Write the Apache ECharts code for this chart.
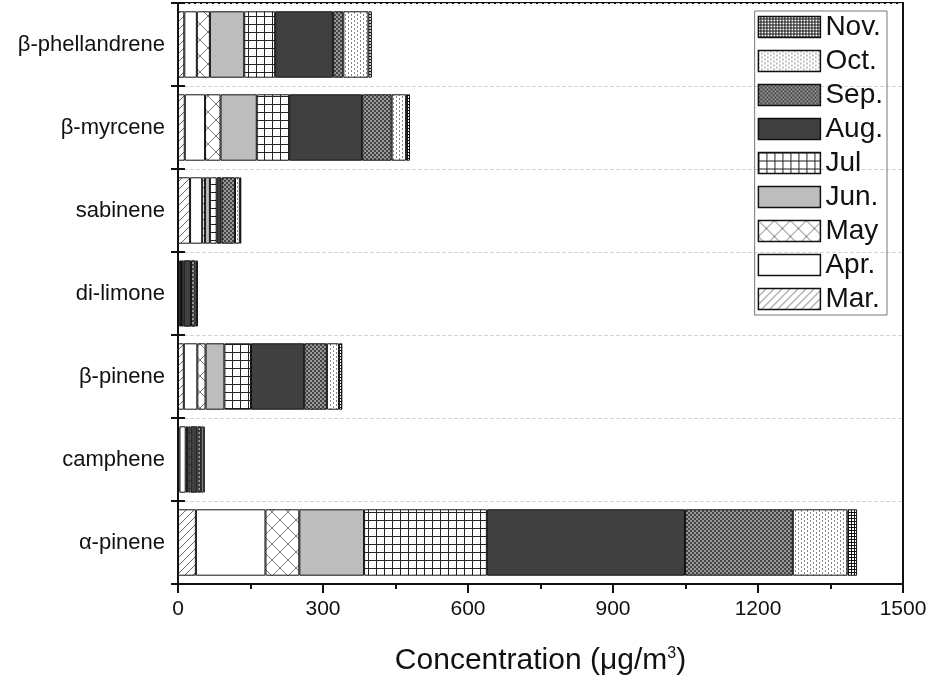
<!DOCTYPE html>
<html><head><meta charset="utf-8">
<script src="https://cdn.jsdelivr.net/npm/echarts@6/dist/echarts.min.js"></script>
<style>html,body{margin:0;padding:0;background:#fff}#c{width:931px;height:683px}</style>
</head><body><div id="c"></div>
<script>
// categories bottom -> top
const categories = ['α-pinene','camphene','β-pinene','di-limone','sabinene','β-myrcene','β-phellandrene'];
const months = ['Mar.','Apr.','May','Jun.','Jul','Aug.','Sep.','Oct.','Nov.'];
const mar = [37, 3, 12, 1, 25, 14, 13];
const apr = [144, 13, 28, 2, 25, 42, 26];
const may = [70, 3, 17, 3, 6, 32, 27];
const jun = [134, 3, 39, 2, 10, 75, 71];
const jul = [254, 4, 55, 4, 14, 67, 64];
const aug = [410, 14, 110, 15, 10, 151, 120];
const sep = [223, 8, 47, 9, 28, 61, 21];
const oct = [113, 5, 25, 3, 10, 30, 52];
const nov = [20, 2, 7, 2, 3, 8, 7];
const xTicks = [0, 300, 600, 900, 1200, 1500];

function tile(w, h, draw) {
  const c = document.createElement('canvas');
  c.width = w; c.height = h;
  const g = c.getContext('2d');
  draw(g, w, h);
  return { image: c, repeat: 'repeat' };
}
const patterns = {
  'Mar.': tile(8, 8, (g) => { g.fillStyle = '#fff'; g.fillRect(0,0,8,8); g.strokeStyle = '#555'; g.lineWidth = 0.9;
    g.beginPath(); g.moveTo(0,8); g.lineTo(8,0); g.moveTo(-1,1); g.lineTo(1,-1); g.moveTo(7,9); g.lineTo(9,7); g.stroke(); }),
  'Apr.': '#ffffff',
  'May': tile(16, 16, (g) => { g.fillStyle = '#fff'; g.fillRect(0,0,16,16); g.strokeStyle = '#777'; g.lineWidth = 1;
    g.beginPath(); g.moveTo(0,0); g.lineTo(16,16); g.moveTo(16,0); g.lineTo(0,16); g.stroke(); }),
  'Jun.': '#bdbdbd',
  'Jul': tile(8, 8, (g) => { g.fillStyle = '#fff'; g.fillRect(0,0,8,8); g.fillStyle = '#222';
    g.fillRect(0,0,8,1); g.fillRect(0,0,1,8); }),
  'Aug.': '#404040',
  'Sep.': tile(4, 4, (g) => { g.fillStyle = '#999'; g.fillRect(0,0,4,4); g.fillStyle = '#444';
    g.fillRect(0,0,2,2); g.fillRect(2,2,2,2); }),
  'Oct.': tile(6, 4, (g) => { g.fillStyle = '#fff'; g.fillRect(0,0,6,4); g.fillStyle = '#888';
    g.fillRect(0,0,1,2); g.fillRect(3,2,1,2); }),
  'Nov.': tile(3, 3, (g) => { g.fillStyle = '#111'; g.fillRect(0,0,3,3); g.fillStyle = '#fff';
    g.fillRect(0,0,2,2); })
};
const values = [mar, apr, may, jun, jul, aug, sep, oct, nov];

const chart = echarts.init(document.getElementById('c'), null, { renderer: 'canvas' });
const font = '"Liberation Sans", Arial, sans-serif';
chart.setOption({
  animation: false,
  textStyle: { fontFamily: font },
  grid: { left: 178, right: 28, top: 3, bottom: 99, show: true, borderColor: '#111', borderWidth: 2 },
  legend: {
    orient: 'vertical', right: 44, top: 11,
    data: months.slice().reverse(),
    icon: 'rect',
    itemWidth: 62, itemHeight: 21, itemGap: 6,
    textStyle: { fontSize: 28, color: '#111', fontFamily: font },
    borderColor: '#777', borderWidth: 1, padding: [2, 4, 2, 3],
    itemStyle: { borderColor: '#111', borderWidth: 1.5 }
  },
  xAxis: {
    type: 'value', min: xTicks[0], max: xTicks[xTicks.length - 1], interval: 300,
    axisLine: { show: true, lineStyle: { color: '#111', width: 2 } },
    axisTick: { show: true, length: 9, lineStyle: { color: '#111', width: 2 } },
    minorTick: { show: true, splitNumber: 2, length: 5, lineStyle: { color: '#111', width: 2 } },
    splitLine: { show: false },
    axisLabel: { fontSize: 21, color: '#111', margin: 15, fontFamily: font, formatter: (v) => String(v) },
    name: 'Concentration (μg/m{sup|3})', nameLocation: 'middle', nameGap: 62,
    nameTextStyle: { fontSize: 30, color: '#111', fontFamily: font, verticalAlign: 'top',
      rich: { sup: { fontSize: 16, verticalAlign: 'top', padding: [0, 0, 12, 0], color: '#111', fontFamily: font } } }
  },
  yAxis: [{
    type: 'category', data: categories,
    axisLine: { show: true, lineStyle: { color: '#111', width: 2 } },
    axisTick: { show: true, length: 7, lineStyle: { color: '#111', width: 2 } },
    splitLine: { show: true, lineStyle: { color: '#d4d4d4', type: 'dashed', width: 1 } },
    axisLabel: { fontSize: 22, color: '#111', margin: 13, fontFamily: font }
  }, {
    type: 'category', data: categories, position: 'left', offset: 0,
    axisLine: { show: false },
    axisTick: { show: true, inside: true, length: 7, lineStyle: { color: '#111', width: 2 } },
    axisLabel: { show: false }, splitLine: { show: false }
  }],
  series: months.map((m, i) => ({
    name: m, type: 'bar', stack: 'total', yAxisIndex: 0,
    barCategoryGap: '20%',
    itemStyle: { color: patterns[m], borderColor: '#111', borderWidth: 1 },
    data: values[i]
  }))
});
</script></body></html>
